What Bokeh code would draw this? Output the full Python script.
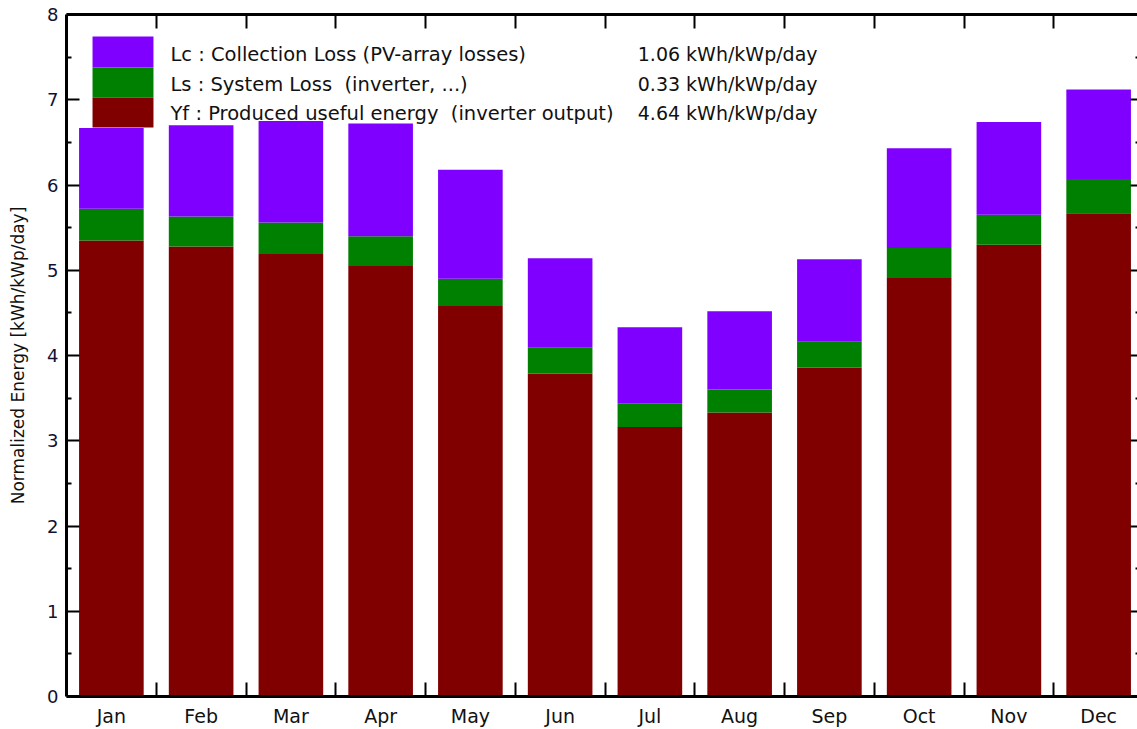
from bokeh.plotting import figure
from bokeh.models import ColumnDataSource, FixedTicker, LinearAxis, Range1d, BoxAnnotation, Label
from bokeh.embed import file_html
from bokeh.resources import INLINE

months = ["Jan", "Feb", "Mar", "Apr", "May", "Jun", "Jul", "Aug", "Sep", "Oct", "Nov", "Dec"]
yf = [5.35, 5.28, 5.19, 5.05, 4.58, 3.79, 3.16, 3.33, 3.86, 4.91, 5.30, 5.67]
ls = [0.37, 0.35, 0.37, 0.35, 0.32, 0.30, 0.28, 0.27, 0.30, 0.35, 0.35, 0.40]
lc = [0.95, 1.07, 1.19, 1.32, 1.28, 1.05, 0.89, 0.92, 0.97, 1.17, 1.09, 1.05]
legend_labels = [
    "Lc : Collection Loss (PV-array losses)",
    "Ls : System Loss \u00a0(inverter, ...)",
    "Yf : Produced useful energy \u00a0(inverter output)",
]
legend_values = ["1.06 kWh/kWp/day", "0.33 kWh/kWp/day", "4.64 kWh/kWp/day"]
y_ticks = [0, 1, 2, 3, 4, 5, 6, 7, 8]

colors = ["#800000", "#008000", "#8000FF"]  # Yf, Ls, Lc
FONT = "DejaVu Sans"

x = [i + 0.5 for i in range(len(months))]
boundaries = list(range(1, len(months)))
y_minor = [t + 0.5 for t in y_ticks[:-1]]
src = ColumnDataSource(dict(x=x, yf=yf, ls=ls, lc=lc))

p = figure(width=1137, height=729, output_backend="svg", toolbar_location=None,
           x_range=Range1d(0, 11.933), y_range=Range1d(0, 8),
           min_border_left=66, min_border_right=0, min_border_top=14, min_border_bottom=33,
           background_fill_color="white", border_fill_color="white")
p.outline_line_color = None
p.grid.visible = False

p.vbar_stack(["yf", "ls", "lc"], x="x", width=0.72, color=colors, line_color=None, source=src)

# bottom axis
xa = p.xaxis[0]
xa.ticker = FixedTicker(ticks=x, minor_ticks=boundaries)
xa.major_label_overrides = {xx: m for xx, m in zip(x, months)}
xa.major_tick_in = 0
xa.major_tick_out = 0
xa.minor_tick_in = 14
xa.minor_tick_out = 0
xa.minor_tick_line_width = 2
xa.minor_tick_line_color = "black"
xa.axis_line_width = 3
xa.axis_line_color = "black"
xa.major_label_text_font = FONT
xa.major_label_text_font_size = "19px"
xa.major_label_text_color = "#111111"
xa.major_label_standoff = 8

# left axis
ya = p.yaxis[0]
ya.ticker = FixedTicker(ticks=y_ticks, minor_ticks=y_minor)
ya.major_tick_in = 13
ya.major_tick_out = 0
ya.minor_tick_in = 5
ya.minor_tick_out = 0
ya.major_tick_line_width = 2
ya.minor_tick_line_width = 2
ya.axis_line_width = 3
ya.major_label_text_font = FONT
ya.major_label_text_font_size = "18px"
ya.major_label_text_color = "#111133"
ya.major_label_standoff = 8
ya.axis_label = "Normalized Energy [kWh/kWp/day]"
ya.axis_label_text_font = FONT
ya.axis_label_text_font_size = "17px"
ya.axis_label_text_font_style = "normal"
ya.axis_label_text_color = "#111111"
ya.axis_label_standoff = 16

# top axis (frame line with boundary ticks, no labels)
ta = LinearAxis(ticker=FixedTicker(ticks=[], minor_ticks=boundaries),
                major_label_standoff=0,
                major_tick_in=0, major_tick_out=0, minor_tick_in=14, minor_tick_out=0,
                minor_tick_line_width=2, axis_line_width=3)
p.add_layout(ta, "above")

# right side: only the inward ticks of the (off-screen) right axis reach into view
ra_major = LinearAxis(ticker=FixedTicker(ticks=[], minor_ticks=y_ticks),
                      major_label_standoff=0, major_tick_in=0, major_tick_out=0,
                      minor_tick_in=7, minor_tick_out=0, minor_tick_line_width=2,
                      axis_line_alpha=0)
ra_minor = LinearAxis(ticker=FixedTicker(ticks=[], minor_ticks=y_minor),
                      major_label_standoff=0, major_tick_in=0, major_tick_out=0,
                      minor_tick_in=2, minor_tick_out=0, minor_tick_line_width=2,
                      axis_line_alpha=0)
p.add_layout(ra_major, "right")
p.add_layout(ra_minor, "right")

# legend block
band_edges = [7.742, 7.378, 7.026, 6.675]
for i, col in enumerate(reversed(colors)):
    p.add_layout(BoxAnnotation(left=0.29, right=0.969, top=band_edges[i], bottom=band_edges[i + 1],
                               fill_color=col, fill_alpha=1.0, line_alpha=0, level="overlay"))
row_y = [7.531, 7.179, 6.839]
for i in range(3):
    p.add_layout(Label(x=1.158, y=row_y[i], text=legend_labels[i], text_font=FONT,
                       text_font_size="19.5px", text_baseline="middle", text_align="left",
                       text_color="#111111"))
    p.add_layout(Label(x=8.368, y=row_y[i], text=legend_values[i], text_font=FONT,
                       text_font_size="19px", text_baseline="middle", text_align="right",
                       text_color="#111111"))

open("out.html", "w").write(file_html(p, INLINE))
